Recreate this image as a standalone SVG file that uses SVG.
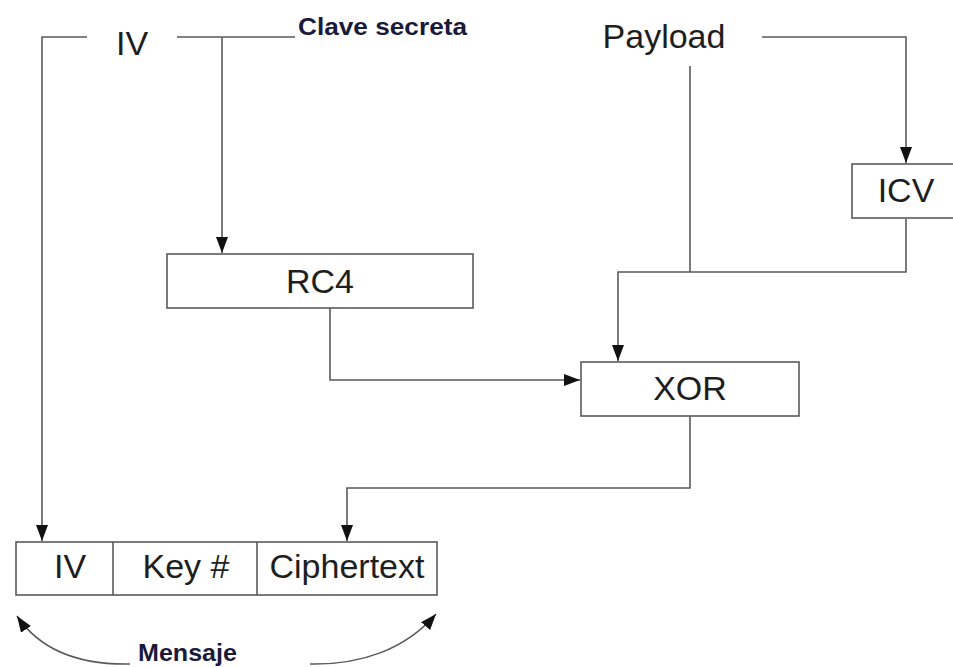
<svg xmlns="http://www.w3.org/2000/svg" width="953" height="667" viewBox="0 0 953 667">
<style>
.box{fill:#fff;stroke:#5a5a5a;stroke-width:1.6}
.ln{fill:none;stroke:#5a5a5a;stroke-width:1.6}
.t{font-family:"Liberation Sans",Arial,sans-serif;font-size:34px;fill:#1e1e1e;text-anchor:middle}
.b{font-family:"Liberation Sans",Arial,sans-serif;font-weight:bold;font-size:24px;fill:#1a1a3a}
</style>
<defs>
<marker id="ah" markerUnits="userSpaceOnUse" viewBox="0 0 16 12" markerWidth="16" markerHeight="12" refX="16" refY="6" orient="auto">
<path d="M0,0 L16,6 L0,12 z" fill="#111"/>
</marker>
</defs>
<rect width="953" height="667" fill="#fff"/>
<g id="connectors">
<path class="ln" d="M87,37 H42 V541" marker-end="url(#ah)"/>
<path class="ln" d="M177,37 H295"/>
<path class="ln" d="M222,37 V253" marker-end="url(#ah)"/>
<path class="ln" d="M762,37 H906 V163" marker-end="url(#ah)"/>
<path class="ln" d="M690,66 V272"/>
<path class="ln" d="M906,219 V272 H618 V361" marker-end="url(#ah)"/>
<path class="ln" d="M330,308 V380 H580" marker-end="url(#ah)"/>
<path class="ln" d="M690,416 V488 H347 V541" marker-end="url(#ah)"/>
<path class="ln" d="M130,664 C80,665 40,650 17,616" marker-end="url(#ah)"/>
<path class="ln" d="M310,664 C360,665 405,650 436,614" marker-end="url(#ah)"/>
</g>
<g id="iv-top"><text class="t" x="132" y="55">IV</text></g>
<g id="clave"><text class="b" x="298" y="35" textLength="169" lengthAdjust="spacingAndGlyphs">Clave secreta</text></g>
<g id="payload"><text class="t" x="664" y="48">Payload</text></g>
<g id="icv"><rect class="box" x="852" y="164" width="110" height="54"/><text class="t" x="906" y="202">ICV</text></g>
<g id="rc4"><rect class="box" x="167" y="254" width="306" height="54"/><text class="t" x="320" y="293">RC4</text></g>
<g id="xor"><rect class="box" x="581" y="362" width="218" height="54"/><text class="t" x="690" y="400">XOR</text></g>
<g id="mensaje-box">
<rect class="box" x="16" y="542" width="421" height="53"/>
<line class="ln" x1="113" y1="542" x2="113" y2="595"/>
<line class="ln" x1="257" y1="542" x2="257" y2="595"/>
<text class="t" x="70" y="578">IV</text>
<text class="t" x="186" y="578">Key #</text>
<text class="t" x="347" y="578">Ciphertext</text>
</g>
<g id="mensaje"><text class="b" x="138" y="661" font-size="25" textLength="99" lengthAdjust="spacingAndGlyphs">Mensaje</text></g>
</svg>
